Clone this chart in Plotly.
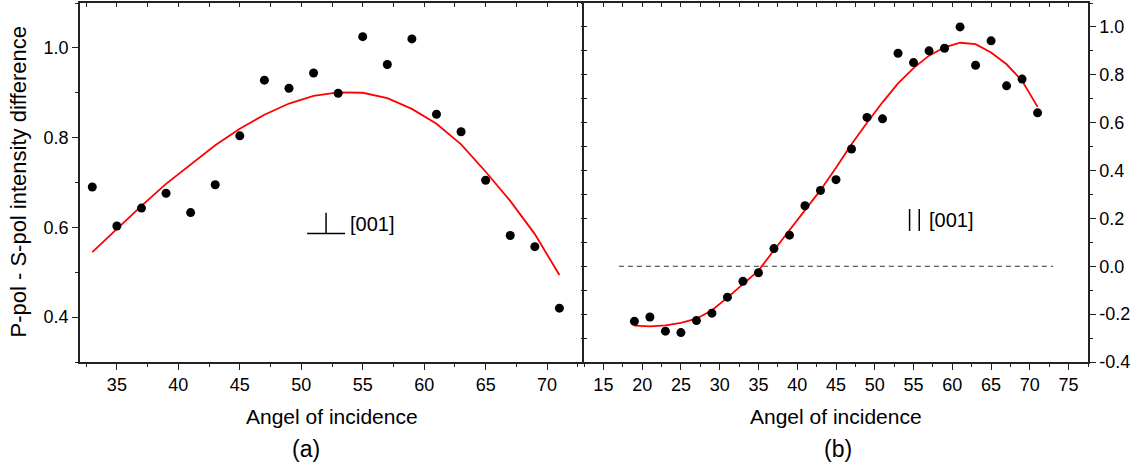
import plotly.graph_objects as go

# ---------------- data ----------------
# panel (a): perpendicular to [001]
angle_a = [33, 35, 37, 39, 41, 43, 45, 47, 49, 51, 53, 55, 57, 59, 61, 63, 65, 67, 69, 71]
diff_a = [0.690, 0.603, 0.643, 0.676, 0.633, 0.695, 0.804, 0.928, 0.910, 0.944,
          0.899, 1.025, 0.963, 1.020, 0.852, 0.813, 0.705, 0.582, 0.557, 0.420]
fit_a = [0.545, 0.597, 0.648, 0.697, 0.741, 0.783, 0.820, 0.851, 0.876, 0.893,
         0.901, 0.900, 0.888, 0.864, 0.831, 0.785, 0.724, 0.659, 0.585, 0.494]

# panel (b): parallel to [001]
angle_b = [19, 21, 23, 25, 27, 29, 31, 33, 35, 37, 39, 41, 43, 45, 47, 49, 51, 53,
           55, 57, 59, 61, 63, 65, 67, 69, 71]
diff_b = [-0.230, -0.212, -0.271, -0.277, -0.227, -0.196, -0.129, -0.063, -0.027,
          0.074, 0.130, 0.253, 0.317, 0.362, 0.490, 0.622, 0.616, 0.890, 0.851,
          0.900, 0.911, 1.000, 0.840, 0.942, 0.754, 0.782, 0.641]
fit_b = [-0.248, -0.251, -0.247, -0.237, -0.219, -0.184, -0.131, -0.076, -0.018,
         0.067, 0.152, 0.236, 0.318, 0.412, 0.510, 0.600, 0.685, 0.764, 0.828,
         0.880, 0.915, 0.934, 0.928, 0.893, 0.844, 0.775, 0.666]
zero_x = [17, 73]
zero_y = [0.0, 0.0]

ticks_xa = [35, 40, 45, 50, 55, 60, 65, 70]
ticks_ya = [0.4, 0.6, 0.8, 1.0]
ticks_xb = [15, 20, 25, 30, 35, 40, 45, 50, 55, 60, 65, 70, 75]
ticks_yb = [-0.4, -0.2, 0.0, 0.2, 0.4, 0.6, 0.8, 1.0]

FONT = "Liberation Sans, Arial, sans-serif"
AX = "#222222"

def lab(v):
    s = f"{v:.1f}"
    return s if v >= 0 else "-" + s[1:]

fig = go.Figure()
fig.add_trace(go.Scatter(x=angle_a, y=fit_a, mode="lines", line=dict(color="#ff0000", width=1.8),
                         xaxis="x", yaxis="y", showlegend=False))
fig.add_trace(go.Scatter(x=angle_a, y=diff_a, mode="markers", marker=dict(color="black", size=9),
                         xaxis="x", yaxis="y", showlegend=False))
fig.add_trace(go.Scatter(x=zero_x, y=zero_y, mode="lines", line=dict(color="#333333", width=1, dash="5px,4px"),
                         xaxis="x2", yaxis="y2", showlegend=False))
fig.add_trace(go.Scatter(x=angle_b, y=fit_b, mode="lines", line=dict(color="#ff0000", width=1.8),
                         xaxis="x2", yaxis="y2", showlegend=False))
fig.add_trace(go.Scatter(x=angle_b, y=diff_b, mode="markers", marker=dict(color="black", size=9),
                         xaxis="x2", yaxis="y2", showlegend=False))
# empty helper traces so the tick-only overlay axes are drawn
for xa, ya in [("x3", "y"), ("x4", "y2"), ("x2", "y3"), ("x2", "y4")]:
    fig.add_trace(go.Scatter(x=[], y=[], mode="markers", xaxis=xa, yaxis=ya,
                             showlegend=False, hoverinfo="skip"))

common = dict(showgrid=False, zeroline=False, showline=True, linecolor=AX, linewidth=1.5,
              ticks="outside", ticklen=6, tickwidth=1.2, tickcolor=AX,
              tickfont=dict(family=FONT, size=18, color="black"))

xa_range = [32, 73]
xb_range = [12.5, 77.5]
ya_range = [0.3, 1.1]
yb_range = [-0.4, 1.1]

fig.update_layout(
    width=1141, height=468,
    margin=dict(l=80, r=53, t=1, b=106),
    paper_bgcolor="white", plot_bgcolor="white",
    font=dict(family=FONT, color="black"),
    xaxis=dict(domain=[0, 0.5], range=xa_range, anchor="y", mirror=True,
               tickvals=ticks_xa, ticktext=[str(v) for v in ticks_xa],
               minor=dict(dtick=2.5, tick0=32.5, ticklen=3, ticks="outside", tickcolor=AX),
               **common),
    yaxis=dict(domain=[0, 1], range=ya_range, anchor="x", mirror=False,
               tickvals=ticks_ya, ticktext=[lab(v) for v in ticks_ya],
               minor=dict(dtick=0.1, tick0=0.3, ticklen=3, ticks="outside", tickcolor=AX),
               **common),
    xaxis2=dict(domain=[0.5, 1], range=xb_range, anchor="y2", mirror=True,
                tickvals=ticks_xb, ticktext=[str(v) for v in ticks_xb],
                minor=dict(dtick=2.5, tick0=12.5, ticklen=3, ticks="outside", tickcolor=AX),
                **common),
    yaxis2=dict(domain=[0, 1], range=yb_range, anchor="x2", side="right", mirror=True,
                tickvals=ticks_yb, ticktext=[lab(v) for v in ticks_yb],
                minor=dict(dtick=0.1, tick0=-0.4, ticklen=3, ticks="outside", tickcolor=AX),
                **common),
    # top inside ticks
    xaxis3=dict(overlaying="x", side="top", anchor="y", range=xa_range, showgrid=False,
                zeroline=False, showline=False, ticks="inside", ticklen=4, tickcolor=AX,
                dtick=2.5, tick0=32.5, showticklabels=False),
    xaxis4=dict(overlaying="x2", side="top", anchor="y2", range=xb_range, showgrid=False,
                zeroline=False, showline=False, ticks="inside", ticklen=4, tickcolor=AX,
                dtick=2.5, tick0=12.5, showticklabels=False),
    # shared middle line ticks (right-panel scale, both sides)
    yaxis3=dict(overlaying="y2", side="left", anchor="x2", range=yb_range, showgrid=False,
                zeroline=False, showline=False, ticks="inside", ticklen=3, tickcolor=AX,
                dtick=0.1, tick0=-0.4, showticklabels=False),
    yaxis4=dict(overlaying="y2", side="left", anchor="x2", range=yb_range, showgrid=False,
                zeroline=False, showline=False, ticks="outside", ticklen=2, tickcolor=AX,
                dtick=0.1, tick0=-0.4, showticklabels=False),
)

ann_font = dict(family=FONT, size=21, color="black")
annotations = [
    dict(text="Angel of incidence", x=0.25, y=-0.1525, xref="paper", yref="paper",
         xanchor="center", yanchor="middle", showarrow=False, font=ann_font),
    dict(text="Angel of incidence", x=0.75, y=-0.1525, xref="paper", yref="paper",
         xanchor="center", yanchor="middle", showarrow=False, font=ann_font),
    dict(text="(a)", x=0.2244, y=-0.243, xref="paper", yref="paper",
         xanchor="center", yanchor="middle", showarrow=False, font=dict(family=FONT, size=23, color="black")),
    dict(text="(b)", x=0.752, y=-0.243, xref="paper", yref="paper",
         xanchor="center", yanchor="middle", showarrow=False, font=dict(family=FONT, size=23, color="black")),
    dict(text="P-pol - S-pol intensity difference", x=-0.0615, y=0.5, xref="paper", yref="paper",
         xanchor="center", yanchor="middle", textangle=-90, showarrow=False,
         font=dict(family=FONT, size=22, color="black")),
    dict(text="[001]", x=0.2655, y=0.3854, xref="paper", yref="paper",
         xanchor="left", yanchor="middle", showarrow=False, font=dict(family=FONT, size=20, color="black")),
    dict(text="[001]", x=0.8400, y=0.3948, xref="paper", yref="paper",
         xanchor="left", yanchor="middle", showarrow=False, font=dict(family=FONT, size=20, color="black")),
]
fig.update_layout(annotations=annotations)

sym = dict(color="black", width=1.5)
fig.update_layout(shapes=[
    dict(type="line", xref="paper", yref="paper", x0=0.2253, x1=0.2630, y0=0.3576, y1=0.3576, line=sym),
    dict(type="line", xref="paper", yref="paper", x0=0.2441, x1=0.2441, y0=0.3576, y1=0.4159, line=sym),
    dict(type="line", xref="paper", yref="paper", x0=0.8230, x1=0.8230, y0=0.3651, y1=0.4261, line=sym),
    dict(type="line", xref="paper", yref="paper", x0=0.8326, x1=0.8326, y0=0.3651, y1=0.4261, line=sym),
])

fig.write_html("out.html", config={"displayModeBar": False},
               post_script="document.body.style.margin='0px';")
